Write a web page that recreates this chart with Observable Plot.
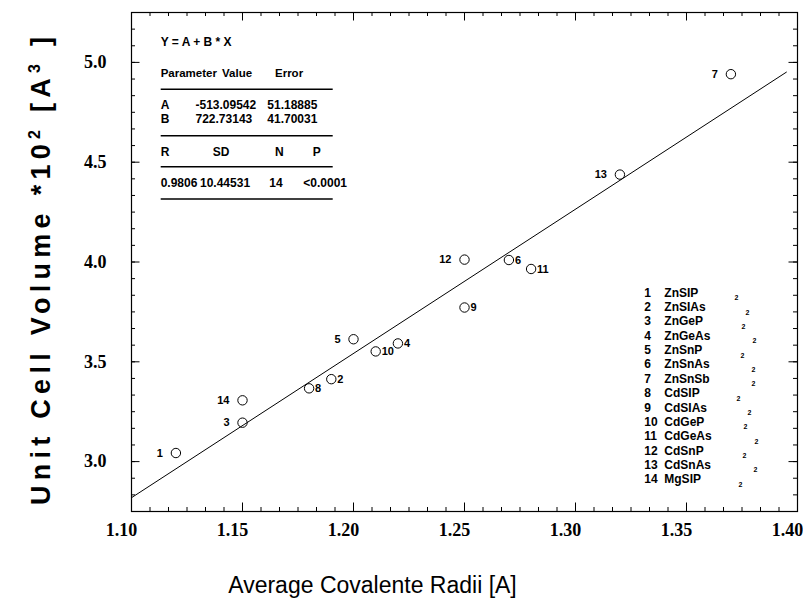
<!DOCTYPE html>
<html><head><meta charset="utf-8">
<script src="https://cdn.jsdelivr.net/npm/d3@7"></script>
<script src="https://cdn.jsdelivr.net/npm/@observablehq/plot@0.6"></script>
<style>body{margin:0;background:#fff}</style>
</head><body><div id="chart"></div>
<script>
// ---- data ----
const compoundIds = [1,2,3,4,5,6,7,8,9,10,11,12,13,14];
const compoundNames = ["ZnSIP","ZnSIAs","ZnGeP","ZnGeAs","ZnSnP","ZnSnAs","ZnSnSb","CdSIP","CdSIAs","CdGeP","CdGeAs","CdSnP","CdSnAs","MgSIP"];
const radii   = [1.12,1.19,1.15,1.22,1.20,1.27,1.37,1.18,1.25,1.21,1.28,1.25,1.32,1.15];
const volumes = [3.043,3.413,3.195,3.592,3.613,4.010,4.941,3.367,3.772,3.552,3.965,4.012,4.438,3.307];
const labelSide = ["left","right","left","right","left","right","left","right","right","right","right","left","left","left"];
const fitA = -513.09542, fitB = 722.73143;
const fitRange = [1.10, 1.395];
const xTickLabels = [1.10,1.15,1.20,1.25,1.30,1.35,1.40];
const yTickLabels = [3.0,3.5,4.0,4.5,5.0];
const xDomain = [1.10,1.40], yDomain = [2.75,5.25];
const fitEquation = "Y = A + B * X";
const paramHeader = ["Parameter","Value","Error"];
const paramNames = ["A","B"];
const paramValues = ["-513.09542","722.73143"];
const paramErrors = ["51.18885","41.70031"];
const statHeader = ["R","SD","N","P"];
const statValues = ["0.9806","10.44531","14","<0.0001"];
const xTitle = "Average Covalente Radii [A]";

// ---- derived ----
const points = compoundIds.map((id,i)=>({id, x:radii[i], y:volumes[i], side:labelSide[i]}));
const fitLine = fitRange.map(x=>({x, y:(fitA + fitB*x)/100}));
const xMinor = d3.range(37).map(k=>xDomain[0] + k*0.05/6);
const yMinor = d3.range(31).map(k=>yDomain[0] + k/12);

const W=803, H=607, mL=131, mR=6, mT=12, mB=96;
const innerW = W-mL-mR, innerH = H-mT-mB;
const tMin = 4, tMaj = 8.5;
const sans = "Liberation Sans, Arial, sans-serif";
const serif = "Liberation Serif, Times New Roman, serif";

const plot = Plot.plot({
  width: W, height: H,
  marginLeft: mL, marginRight: mR, marginTop: mT, marginBottom: mB,
  x: {domain: xDomain},
  y: {domain: yDomain},
  style: {background:"white", color:"black"},
  marks: [
    Plot.ruleX(xMinor, {stroke:"black", insetTop: innerH - tMin}),
    Plot.ruleX(xMinor, {stroke:"black", insetBottom: innerH - tMin}),
    Plot.ruleX(xTickLabels, {stroke:"black", insetTop: innerH - tMaj}),
    Plot.ruleX(xTickLabels, {stroke:"black", insetBottom: innerH - tMaj}),
    Plot.ruleY(yMinor, {stroke:"black", insetRight: innerW - tMin}),
    Plot.ruleY(yMinor, {stroke:"black", insetLeft: innerW - tMin}),
    Plot.ruleY(yTickLabels, {stroke:"black", insetRight: innerW - tMaj}),
    Plot.ruleY(yTickLabels, {stroke:"black", insetLeft: innerW - tMaj}),
    Plot.frame({stroke:"black", strokeWidth:1.2}),
    Plot.line(fitLine, {x:"x", y:"y", stroke:"black", strokeWidth:1}),
    Plot.dot(points, {x:"x", y:"y", r:4.7, stroke:"black", strokeWidth:1, fill:"none"}),
    Plot.text(points.filter(d=>d.side==="left"), {x:"x", y:"y", text:"id", textAnchor:"end", dx:-13, fontSize:11, fontWeight:"bold", fontFamily:sans, fill:"black"}),
    Plot.text(points.filter(d=>d.side==="right"), {x:"x", y:"y", text:"id", textAnchor:"start", dx:6, fontSize:11, fontWeight:"bold", fontFamily:sans, fill:"black"}),
    Plot.axisX({ticks:xTickLabels, tickSize:0, tickPadding:12, dx:-10, tickFormat:d=>d.toFixed(2), fontSize:18, fontWeight:"bold", fontFamily:serif, label:null}),
    Plot.axisY({ticks:yTickLabels, tickSize:0, tickPadding:25, tickFormat:d=>d.toFixed(1), fontSize:18, fontWeight:"bold", fontFamily:serif, label:null})
  ]
});
document.getElementById("chart").appendChild(plot);

const svg = d3.select(plot);

// x title
svg.append("text").attr("x",372.5).attr("y",593).attr("text-anchor","middle")
  .attr("font-family",sans).attr("font-size",23).attr("fill","black").text(xTitle);

// y title
const yt = svg.append("text").attr("transform","translate(50,271) rotate(-90)")
  .attr("text-anchor","middle").attr("font-family",sans).attr("font-weight","bold")
  .attr("font-size",27).attr("fill","black")
  .attr("textLength",468).attr("lengthAdjust","spacing");
yt.append("tspan").text("Unit Cell Volume *10");
yt.append("tspan").attr("dy",-10).attr("font-size",16).text("2");
yt.append("tspan").attr("dy",10).text(" [A");
yt.append("tspan").attr("dy",-10).attr("font-size",16).text("3");
yt.append("tspan").attr("dy",10).text(" ]");

// fit statistics table
const tb = svg.append("g").attr("text-anchor","start").attr("font-family",sans).attr("font-weight","bold").attr("font-size",12).attr("fill","black");
const tx = (x,y,s)=>tb.append("text").attr("x",x).attr("y",y).text(s);
const rule = y=>tb.append("line").attr("x1",160.7).attr("x2",332.7).attr("y1",y).attr("y2",y).attr("stroke","black").attr("stroke-width",1.6);
tx(160.7,46,fitEquation);
tx(160.7,76.7,paramHeader[0]).attr("font-size",11.5);
tx(222,76.7,paramHeader[1]).attr("font-size",11.5);
tx(275,76.7,paramHeader[2]).attr("font-size",11.5);
rule(89.3);
[109,122.7].forEach((y,i)=>{tx(160.7,y,paramNames[i]); tx(195.5,y,paramValues[i]); tx(267.3,y,paramErrors[i]);});
rule(135.7);
[160.7,212.7,275,312.7].forEach((x,i)=>tx(x,156,statHeader[i]));
rule(166.7);
[160.7,200,269.3,303.3].forEach((x,i)=>tx(x,186.7,statValues[i]));
rule(199);

// compound legend
const lg = svg.append("g").attr("text-anchor","start").attr("font-family",sans).attr("font-weight","bold").attr("font-size",12).attr("fill","black");
compoundIds.forEach((id,i)=>{
  const y = 296.7 + i*14.35;
  lg.append("text").attr("x",644.3).attr("y",y).text(id);
  const t = lg.append("text").attr("x",664.3).attr("y",y).text(compoundNames[i]);
  const w = t.node().getComputedTextLength();
  lg.append("text").attr("x",683.5 + 1.5*w).attr("y",y+3.5).attr("font-size",7).text("2");
});
</script></body></html>
